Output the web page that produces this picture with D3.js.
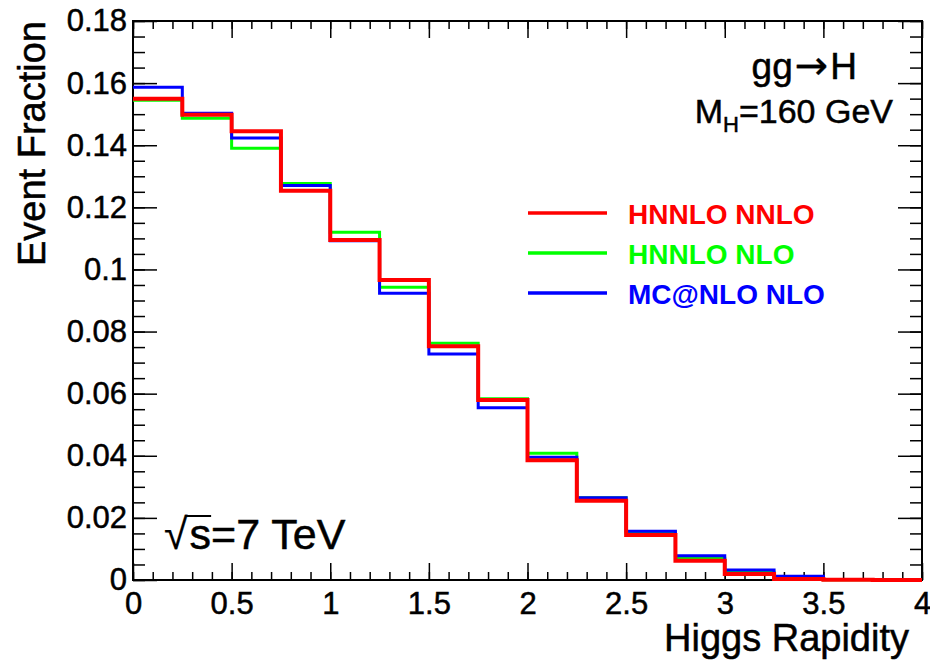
<!DOCTYPE html>
<meta charset='utf-8'>
<html>
  <style>
    body { margin: 0; background: #fff; }
    svg text { font-family: "Liberation Sans", Arial, Helvetica, sans-serif; fill: #000; stroke: #000; stroke-width: 0.5px; }
    .axis text { font-size: 31px; }
    .axis line { stroke: #000; stroke-width: 1.5px; }
    .axis path { display: none; }
    .legend text { font-size: 28px; font-weight: bold; stroke: none; }
  </style>
  <head>
    <script src="https://cdn.jsdelivr.net/npm/d3@7"></script>
  </head>
  <body>
    <div id="chart"></div>
    <script type="text/javascript">
      // bin edges of the rapidity histogram
      var edges = [0, 0.25, 0.5, 0.75, 1, 1.25, 1.5, 1.75, 2, 2.25, 2.5, 2.75, 3, 3.25, 3.5, 3.75, 4];

      var hnnloNNLO = [0.1550, 0.1498, 0.1445, 0.1253, 0.1095, 0.0966, 0.0753, 0.0580,
                       0.0386, 0.0255, 0.0145, 0.0062, 0.0019, 0.0003, 0.0001, 0.0000];
      var hnnloNLO  = [0.1545, 0.1487, 0.1390, 0.1277, 0.1120, 0.0943, 0.0762, 0.0584,
                       0.0408, 0.0265, 0.0151, 0.0070, 0.0025, 0.0004, 0.0001, 0.0000];
      var mcatnlo   = [0.1587, 0.1503, 0.1423, 0.1270, 0.1092, 0.0923, 0.0728, 0.0555,
                       0.0395, 0.0265, 0.0157, 0.0078, 0.0032, 0.0012, 0.0002, 0.0000];

      var seriesNames = ["HNNLO NNLO", "HNNLO NLO", "MC@NLO NLO"];
      var seriesColors = ["#ff0000", "#00ff00", "#0000ff"];

      var xTicks = [0, 0.5, 1, 1.5, 2, 2.5, 3, 3.5, 4];
      var xMinor = d3.range(0, 4.0001, 0.1);
      var yTicks = [0, 0.02, 0.04, 0.06, 0.08, 0.1, 0.12, 0.14, 0.16, 0.18];
      var yMinor = d3.range(0, 0.18001, 0.005);

      var W = 930, H = 664,
          padL = 133, padR = 922, padT = 21, padB = 580;

      var x = d3.scaleLinear().domain([0, 4]).range([padL, padR]);
      var y = d3.scaleLinear().domain([0, 0.18]).range([padB, padT]);

      var svg = d3.select("#chart").append("svg")
        .attr("width", W)
        .attr("height", H);

      svg.append("rect").attr("width", W).attr("height", H).attr("fill", "#fff");

      // minor ticks
      svg.append("g").attr("class", "axis")
        .attr("transform", "translate(0," + padB + ")")
        .call(d3.axisBottom(x).tickValues(xMinor).tickSize(-8).tickSizeOuter(0).tickFormat(""));
      svg.append("g").attr("class", "axis")
        .attr("transform", "translate(0," + padT + ")")
        .call(d3.axisTop(x).tickValues(xMinor).tickSize(-8).tickSizeOuter(0).tickFormat(""));
      svg.append("g").attr("class", "axis")
        .attr("transform", "translate(" + padL + ",0)")
        .call(d3.axisLeft(y).tickValues(yMinor).tickSize(-12).tickSizeOuter(0).tickFormat(""));
      svg.append("g").attr("class", "axis")
        .attr("transform", "translate(" + padR + ",0)")
        .call(d3.axisRight(y).tickValues(yMinor).tickSize(-12).tickSizeOuter(0).tickFormat(""));

      // major ticks + labels
      svg.append("g").attr("class", "axis")
        .attr("transform", "translate(0," + padB + ")")
        .call(d3.axisBottom(x).tickValues(xTicks).tickSize(-17).tickSizeOuter(0).tickPadding(12)
          .tickFormat(function(d){ return String(d); }));
      svg.append("g").attr("class", "axis")
        .attr("transform", "translate(0," + padT + ")")
        .call(d3.axisTop(x).tickValues(xTicks).tickSize(-17).tickSizeOuter(0).tickFormat(""));
      svg.append("g").attr("class", "axis")
        .attr("transform", "translate(" + padL + ",0)")
        .call(d3.axisLeft(y).tickValues(yTicks).tickSize(-24).tickSizeOuter(0).tickPadding(6)
          .tickFormat(function(d){ return String(+d.toFixed(2)); }));
      svg.append("g").attr("class", "axis")
        .attr("transform", "translate(" + padR + ",0)")
        .call(d3.axisRight(y).tickValues(yTicks).tickSize(-24).tickSizeOuter(0).tickFormat(""));

      // frame
      svg.append("rect")
        .attr("x", padL).attr("y", padT)
        .attr("width", padR - padL).attr("height", padB - padT)
        .attr("fill", "none").attr("stroke", "#000").attr("stroke-width", 2);

      // histograms
      var line = d3.line()
        .x(function(d){ return x(d[0]); })
        .y(function(d){ return y(d[1]); })
        .curve(d3.curveStepAfter);

      function steps(vals) {
        var pts = vals.map(function(v, i){ return [edges[i], v]; });
        pts.push([edges[edges.length - 1], vals[vals.length - 1]]);
        return pts;
      }

      var hists = [
        {vals: hnnloNLO, color: seriesColors[1], w: 3},
        {vals: mcatnlo, color: seriesColors[2], w: 3},
        {vals: hnnloNNLO, color: seriesColors[0], w: 4}
      ];

      svg.selectAll(".hist").data(hists).enter().append("path")
        .attr("class", "hist")
        .attr("d", function(d){ return line(steps(d.vals)); })
        .attr("fill", "none")
        .attr("stroke", function(d){ return d.color; })
        .attr("stroke-width", function(d){ return d.w; })
        .attr("stroke-linejoin", "miter");

      // legend
      var legend = svg.append("g").attr("class", "legend");
      var lg = legend.selectAll("g").data(seriesNames).enter().append("g")
        .attr("transform", function(d, i){ return "translate(0," + (213 + 40 * i) + ")"; });
      lg.append("line")
        .attr("x1", 528).attr("x2", 607)
        .attr("stroke", function(d, i){ return seriesColors[i]; })
        .attr("stroke-width", 3.5);
      lg.append("text")
        .attr("x", 628).attr("y", 11)
        .style("fill", function(d, i){ return seriesColors[i]; })
        .text(function(d){ return d; });

      // axis titles
      svg.append("text")
        .attr("transform", "translate(45," + padT + ") rotate(-90)")
        .attr("text-anchor", "end")
        .style("font-size", "38px")
        .text("Event Fraction");

      svg.append("text")
        .attr("x", 909).attr("y", 651)
        .attr("text-anchor", "end")
        .style("font-size", "38px")
        .text("Higgs Rapidity");

      // process labels
      var gg = svg.append("text")
        .attr("x", 857).attr("y", 79)
        .attr("text-anchor", "end")
        .style("font-size", "37px");
      gg.append("tspan").text("gg");
      gg.append("tspan").attr("dx", 2).style("font-family", "DejaVu Sans")
        .style("font-size", "40px").style("stroke-width", "0.3px").text("\u2192");
      gg.append("tspan").attr("dx", 2).text("H");

      var mh = svg.append("text")
        .attr("x", 893).attr("y", 123)
        .attr("text-anchor", "end")
        .style("font-size", "34px");
      mh.append("tspan").text("M");
      mh.append("tspan").attr("dy", 9).style("font-size", "22px").text("H");
      mh.append("tspan").attr("dy", -9).text("=160 GeV");

      var rs = svg.append("text")
        .attr("x", 164).attr("y", 549)
        .style("font-size", "43px");
      rs.append("tspan").style("stroke-width", "0.2px").text("\u221A");
      rs.append("tspan").attr("dx", 2).text("s");
      rs.append("tspan").text("=7 TeV");
      var startS = rs.node().getStartPositionOfChar(1).x;
      var endS = rs.node().getEndPositionOfChar(1).x;
      svg.append("line")
        .attr("x1", startS - 4).attr("x2", endS)
        .attr("y1", 516).attr("y2", 516)
        .attr("stroke", "#000").attr("stroke-width", 2);
    </script>
  </body>
</html>
